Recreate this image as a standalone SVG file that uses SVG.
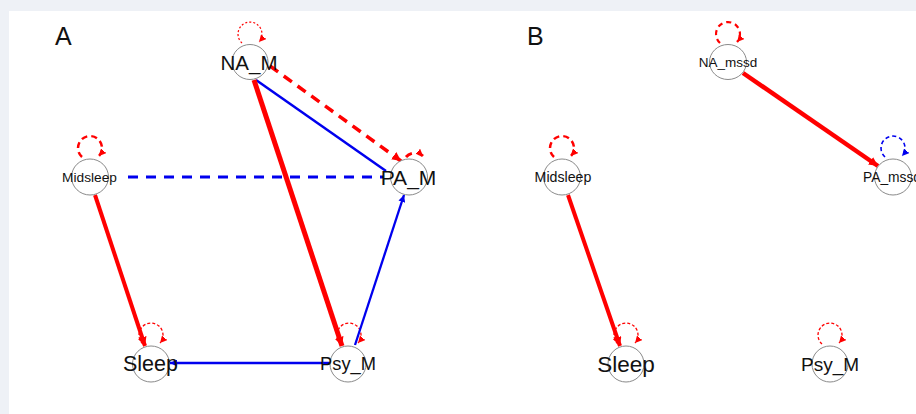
<svg xmlns="http://www.w3.org/2000/svg" width="916" height="414" viewBox="0 0 916 414">
<style>
.node ellipse{fill:#fff;stroke:#8a8a8a;stroke-width:1}
text{font-family:"Liberation Sans",Arial,sans-serif;fill:#111}
.lab{text-anchor:middle}
.panel{font-size:25px}
.red{stroke:#ff0000;fill:none}
.blue{stroke:#0000ee;fill:none}
</style>
<defs>
<marker id="ar" viewBox="0 0 10 10" refX="10" refY="5" markerWidth="9" markerHeight="9" markerUnits="userSpaceOnUse" orient="auto"><path d="M0,0 L10,5 L0,10 z" fill="#ff0000"/></marker>
<marker id="ab" viewBox="0 0 10 10" refX="10" refY="5" markerWidth="9" markerHeight="9" markerUnits="userSpaceOnUse" orient="auto"><path d="M0,0 L10,5 L0,10 z" fill="#0000ee"/></marker>
<marker id="ars" viewBox="0 0 10 10" refX="10" refY="5" markerWidth="7" markerHeight="7" markerUnits="userSpaceOnUse" orient="auto"><path d="M0,0 L10,5 L0,10 z" fill="#ff0000"/></marker>
<marker id="abs" viewBox="0 0 10 10" refX="10" refY="5" markerWidth="7" markerHeight="7" markerUnits="userSpaceOnUse" orient="auto"><path d="M0,0 L10,5 L0,10 z" fill="#0000ee"/></marker>
</defs>
<rect width="916" height="414" fill="#eef1f6"/>
<rect x="9" y="11" width="907" height="403" fill="#ffffff"/>
<text class="panel" x="55" y="45">A</text>
<text class="panel" x="527" y="45">B</text>
<g id="connectors">
<!-- panel A -->
<path class="red" d="M242,43 A12,12 0 1 1 259,42" stroke-width="1.2" stroke-dasharray="2,2" marker-end="url(#ars)"/>
<path class="red" d="M82,157 A12,12 0 1 1 99,156" stroke-width="2.5" stroke-dasharray="6,4" marker-end="url(#ars)"/>
<path class="red" d="M406,157 A12,12 0 0 1 423,156" stroke-width="3" stroke-dasharray="7,6" marker-end="url(#ars)"/>
<path class="red" d="M143,344 A12,12 0 1 1 160,343" stroke-width="1.3" stroke-dasharray="3,2" marker-end="url(#ars)"/>
<path class="red" d="M341,344 A12,12 0 1 1 358,343" stroke-width="1.3" stroke-dasharray="3,2" marker-end="url(#ars)"/>
<line class="red" x1="270" y1="66" x2="401" y2="161" stroke-width="3.5" stroke-dasharray="10,7" marker-end="url(#ar)"/>
<line class="blue" x1="256" y1="80" x2="386" y2="171" stroke-width="2.5"/>
<line class="red" x1="254" y1="80" x2="342" y2="346" stroke-width="5" marker-end="url(#ar)"/>
<line class="blue" x1="128" y1="177" x2="384" y2="177" stroke-width="2.8" stroke-dasharray="10,8"/>
<line class="red" x1="95" y1="195" x2="145" y2="346" stroke-width="4" marker-end="url(#ar)"/>
<line class="blue" x1="355" y1="345" x2="404" y2="195" stroke-width="2.3" marker-end="url(#abs)"/>
<line class="blue" x1="330" y1="363" x2="170" y2="363" stroke-width="2.5" marker-end="url(#abs)"/>
<!-- panel B -->
<path class="red" d="M720,43 A12,12 0 1 1 737,42" stroke-width="2.2" stroke-dasharray="5,4" marker-end="url(#ars)"/>
<path class="red" d="M554,157 A12,12 0 1 1 571,156" stroke-width="2.5" stroke-dasharray="6,4" marker-end="url(#ars)"/>
<path class="blue" d="M885,157 A12,12 0 1 1 902,156" stroke-width="1.6" stroke-dasharray="4,3" marker-end="url(#abs)"/>
<path class="red" d="M618,344 A12,12 0 1 1 635,343" stroke-width="1.3" stroke-dasharray="3,2" marker-end="url(#ars)"/>
<path class="red" d="M822,344 A12,12 0 1 1 839,343" stroke-width="1.3" stroke-dasharray="3,2" marker-end="url(#ars)"/>
<line class="red" x1="743" y1="73" x2="878" y2="166" stroke-width="4.5" marker-end="url(#ar)"/>
<line class="red" x1="568" y1="195" x2="620" y2="346" stroke-width="4" marker-end="url(#ar)"/>
</g>
<g id="NA_M" class="node"><ellipse cx="250" cy="62" rx="18" ry="17.5"/><text class="lab" x="249" y="69.5" font-size="20.5">NA_M</text></g>
<g id="Midsleep_A" class="node"><ellipse cx="90" cy="177" rx="18.5" ry="18"/><text class="lab" x="89.5" y="182" font-size="13.7">Midsleep</text></g>
<g id="PA_M" class="node"><ellipse cx="409" cy="177" rx="18.5" ry="18"/><text class="lab" x="408.5" y="184.5" font-size="21">PA_M</text></g>
<g id="Sleep_A" class="node"><ellipse cx="151" cy="364" rx="18.5" ry="18"/><text class="lab" x="150.5" y="371" font-size="21.5">Sleep</text></g>
<g id="Psy_M_A" class="node"><ellipse cx="348" cy="364" rx="18" ry="18"/><text class="lab" x="348" y="370" font-size="18.3">Psy_M</text></g>
<g id="NA_mssd" class="node"><ellipse cx="728" cy="62" rx="18.5" ry="17.5"/><text class="lab" x="728" y="67" font-size="13.5">NA_mssd</text></g>
<g id="Midsleep_B" class="node"><ellipse cx="562" cy="177" rx="18.5" ry="18"/><text class="lab" x="563" y="182" font-size="14.2">Midsleep</text></g>
<g id="PA_mssd" class="node"><ellipse cx="893" cy="177" rx="18.5" ry="18"/><text x="863" y="182" font-size="13.8">PA_mssd</text></g>
<g id="Sleep_B" class="node"><ellipse cx="626" cy="364" rx="18" ry="18"/><text class="lab" x="626" y="371.5" font-size="22.5">Sleep</text></g>
<g id="Psy_M_B" class="node"><ellipse cx="830" cy="364" rx="18" ry="18"/><text class="lab" x="830" y="370.5" font-size="19">Psy_M</text></g>
</svg>
